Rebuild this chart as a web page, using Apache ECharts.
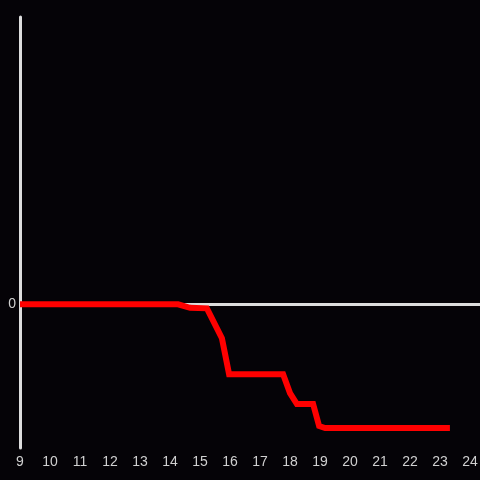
<!DOCTYPE html>
<html><head><meta charset="utf-8">
<script src="https://cdn.jsdelivr.net/npm/echarts@6/dist/echarts.min.js"></script>
<style>html,body{margin:0;padding:0;background:#050307;}#c{width:480px;height:480px;}</style>
</head><body><div id="c"></div>
<script>
const xValues = [9, 14.27, 14.67, 15.23, 15.73, 15.97, 17.77, 18.0, 18.23, 18.77, 18.97, 19.17, 23.33];
const yValues = [0, 0, -0.024, -0.028, -0.236, -0.486, -0.486, -0.618, -0.694, -0.694, -0.847, -0.861, -0.861];
const xTicks = [9,10,11,12,13,14,15,16,17,18,19,20,21,22,23,24];
const yTicks = [0];

const chart = echarts.init(document.getElementById('c'), null, {renderer:'canvas'});
chart.setOption({
  backgroundColor: '#050307',
  animation: false,
  grid: {left: 20, right: 0, top: 17, bottom: 32, containLabel: false, outerBoundsMode: 'none'},
  xAxis: {
    type: 'value', min: 9, max: 24.333, interval: 1,
    axisLine: {show: false, onZero: false},
    axisTick: {show: false},
    splitLine: {show: false},
    axisLabel: {color: '#d0d0d0', fontSize: 14, margin: 7, fontFamily: 'Liberation Sans, Arial, sans-serif',
      formatter: v => xTicks.includes(v) ? String(v) : ''}
  },
  yAxis: {
    type: 'value', min: -1, max: 2, interval: 1,
    axisLine: {show: true, onZero: false, lineStyle: {color: '#dddddd', width: 3}},
    axisTick: {show: false},
    splitLine: {show: false},
    axisLabel: {color: '#d0d0d0', fontSize: 14, margin: 4, fontFamily: 'Liberation Sans, Arial, sans-serif',
      formatter: v => yTicks.includes(v) ? String(v) : ''}
  },
  series: [
    {
      type: 'line', data: [], z: 1, silent: true,
      markLine: {silent: true, symbol: ['none','none'], label: {show: false},
        lineStyle: {color: '#dddddd', width: 3, type: 'solid'},
        data: [{yAxis: 0}]}
    },
    {
      type: 'line', z: 5, showSymbol: false, symbol: 'none',
      data: xValues.map((x, i) => [x, yValues[i]]),
      lineStyle: {color: '#ff0000', width: 6, cap: 'butt', join: 'miter'}
    }
  ]
});
</script></body></html>
